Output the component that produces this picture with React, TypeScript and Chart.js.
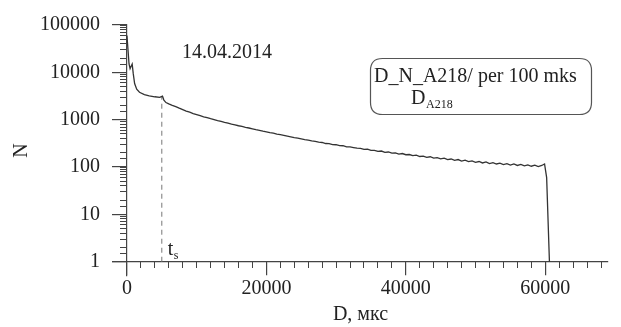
import React, { useEffect, useRef } from "react";
import { Chart, registerables } from "chart.js";

Chart.register(...registerables);

// ---- data ----
const D_US = [
  0, 150, 300, 450, 600, 750, 900, 1100, 1400, 1800, 2500, 3200, 4000, 4700, 5100, 5300, 5600,
  6000, 6500, 7000, 7500, 8000, 8500, 9000, 9500, 10000, 10500, 11000, 11500, 12000, 12500,
  13000, 13500, 14000, 14500, 15000, 15500, 16000, 16500, 17000, 17500, 18000, 18500, 19000,
  19500, 20000, 20500, 21000, 21500, 22000, 22500, 23000, 23500, 24000, 24500, 25000, 25500,
  26000, 26500, 27000, 27500, 28000, 28500, 29000, 29500, 30000, 30500, 31000, 31500, 32000,
  32500, 33000, 33500, 34000, 34500, 35000, 35500, 36000, 36500, 37000, 37500, 38000, 38500,
  39000, 39500, 40000, 40500, 41000, 41500, 42000, 42500, 43000, 43500, 44000, 44500, 45000,
  45500, 46000, 46500, 47000, 47500, 48000, 48500, 49000, 49500, 50000, 50500, 51000, 51500,
  52000, 52500, 53000, 53500, 54000, 54500, 55000, 55500, 56000, 56500, 57000, 57500, 58000,
  58500, 59000, 59500, 59900, 60200, 60600,
];
const N_COUNT = [
  60000, 30000, 15000, 12000, 13500, 15000, 9500, 5800, 4400, 3800, 3400, 3200, 3050, 2950, 3150, 2600, 2300,
  2160, 2010, 1890, 1750, 1630, 1520, 1450, 1350, 1285, 1215, 1150, 1105, 1050, 1005,
  960, 925, 880, 850, 805, 780, 745, 720, 690, 668, 640, 615, 598,
  572, 556, 533, 518, 498, 482, 466, 450, 436, 420, 407, 395, 380,
  372, 356, 350, 336, 330, 314, 312, 298, 296, 283, 282, 268, 266,
  258, 250, 248, 236, 238, 224, 226, 214, 218, 205, 208, 197, 200,
  188, 193, 182, 184, 174, 178, 167, 170, 160, 165, 155, 158, 149,
  154, 144, 148, 139, 144, 134, 140, 130, 135, 126, 131, 122, 128,
  118, 124, 116, 121, 113, 118, 110, 116, 108, 114, 106, 111, 104,
  110, 102, 108, 116, 60, 1,
];
const TS_D = [5000, 5000];
const TS_N = [1, 2950];

const X_MIN = -2000;
const X_MAX = 69000;
const Y_MIN = 0.5;
const Y_MAX = 100000;
const X_MAJOR_TICKS = [0, 20000, 40000, 60000];
const X_MINOR_STEP = 2000;
const Y_MAJOR_TICKS = [1, 10, 100, 1000, 10000, 100000];

const DATE_LABEL = "14.04.2014";
const LEGEND_LINE1 = "D_N_A218/ per 100 mks";
const LEGEND_MAIN = "D";
const LEGEND_SUB = "A218";
const TS_MAIN = "t";
const TS_SUB = "s";
const X_TITLE = "D, мкс";
const Y_TITLE = "N";

const FONT = '"Liberation Serif", "DejaVu Serif", serif';
const INK = "#222";
const AXIS = "#444";

const annotations = {
  id: "annotations",
  afterDraw(chart: any) {
    const ctx = chart.ctx;
    ctx.save();
    ctx.fillStyle = INK;
    ctx.textBaseline = "alphabetic";
    ctx.textAlign = "left";
    ctx.font = `20px ${FONT}`;
    ctx.fillText(DATE_LABEL, 182, 58);

    // legend box
    const bx = 370.5, by = 58.5, bw = 221, bh = 56, r = 12;
    ctx.beginPath();
    ctx.moveTo(bx + r, by);
    ctx.lineTo(bx + bw - r, by);
    ctx.quadraticCurveTo(bx + bw, by, bx + bw, by + r);
    ctx.lineTo(bx + bw, by + bh - r);
    ctx.quadraticCurveTo(bx + bw, by + bh, bx + bw - r, by + bh);
    ctx.lineTo(bx + r, by + bh);
    ctx.quadraticCurveTo(bx, by + bh, bx, by + bh - r);
    ctx.lineTo(bx, by + r);
    ctx.quadraticCurveTo(bx, by, bx + r, by);
    ctx.closePath();
    ctx.strokeStyle = "#555";
    ctx.lineWidth = 1.2;
    ctx.stroke();

    ctx.font = `20px ${FONT}`;
    ctx.fillText(LEGEND_LINE1, 374, 82);
    ctx.fillText(LEGEND_MAIN, 411, 104);
    ctx.font = `12px ${FONT}`;
    ctx.fillText(LEGEND_SUB, 426, 108);

    // t_s label
    const xs = chart.scales.x;
    const px = xs.getPixelForValue(TS_D[0]);
    ctx.font = `20px ${FONT}`;
    ctx.fillText(TS_MAIN, px + 6, 255);
    ctx.font = `12px ${FONT}`;
    ctx.fillText(TS_SUB, px + 12, 259);
    ctx.restore();
  },
};

export default function App() {
  const ref = useRef<HTMLCanvasElement | null>(null);
  useEffect(() => {
    if (!ref.current) return;
    const mainData = D_US.map((d, i) => ({ x: d, y: N_COUNT[i] }));
    const tsData = TS_D.map((d, i) => ({ x: d, y: TS_N[i] }));
    const chart = new Chart(ref.current, {
      type: "line",
      data: {
        datasets: [
          {
            label: LEGEND_MAIN + LEGEND_SUB,
            data: mainData,
            borderColor: "#333",
            borderWidth: 1.3,
            pointRadius: 0,
            tension: 0,
            xAxisID: "x",
            yAxisID: "y",
          },
          {
            label: "ts",
            data: tsData,
            borderColor: "#777",
            borderWidth: 1,
            borderDash: [5, 4],
            pointRadius: 0,
            xAxisID: "x",
            yAxisID: "y",
          },
        ],
      },
      options: {
        animation: false,
        responsive: false,
        events: [],
        layout: { padding: { left: 0, right: 13, top: 18, bottom: 51 } },
        plugins: { legend: { display: false }, tooltip: { enabled: false } },
        scales: {
          x: {
            type: "linear",
            min: X_MIN,
            max: X_MAX,
            position: { y: 1 } as any,
            afterBuildTicks: (s: any) => {
              s.ticks = X_MAJOR_TICKS.map((v) => ({ value: v }));
            },
            ticks: {
              callback: (v: any) => String(v),
              color: INK,
              font: { family: FONT, size: 20 },
              padding: 2,
              maxRotation: 0,
              autoSkip: false,
            },
            grid: { drawOnChartArea: false, drawTicks: true, tickLength: 13, color: AXIS, lineWidth: 1.2 },
            border: { display: true, color: AXIS, width: 1.2 },
            title: { display: true, text: X_TITLE, color: INK, font: { family: FONT, size: 20 }, padding: { top: 0, bottom: 0 } },
          },
          x2: {
            type: "linear",
            min: X_MIN,
            max: X_MAX,
            position: { y: 1 } as any,
            afterBuildTicks: (s: any) => {
              const t = [];
              for (let v = 0; v <= X_MAX; v += X_MINOR_STEP) t.push({ value: v });
              s.ticks = t;
            },
            ticks: { display: false, autoSkip: false },
            grid: { drawOnChartArea: false, drawTicks: true, tickLength: 6, color: AXIS, lineWidth: 1 },
            border: { display: false },
          },
          y: {
            type: "logarithmic",
            min: Y_MIN,
            max: Y_MAX,
            position: { x: 0 } as any,
            afterBuildTicks: (s: any) => {
              s.ticks = Y_MAJOR_TICKS.map((v) => ({ value: v }));
            },
            ticks: { display: false, autoSkip: false },
            grid: { drawOnChartArea: false, drawTicks: true, tickLength: 14, color: AXIS, lineWidth: 1.2 },
            border: { display: true, color: AXIS, width: 1.2 },
          },
          y2: {
            type: "logarithmic",
            min: Y_MIN,
            max: Y_MAX,
            position: { x: 0 } as any,
            afterBuildTicks: (s: any) => {
              s.ticks = s.ticks.filter((t: any) => t.value >= 1);
            },
            ticks: { display: false, autoSkip: false },
            grid: { drawOnChartArea: false, drawTicks: true, tickLength: 7, color: AXIS, lineWidth: 1 },
            border: { display: false },
          },
          yLabels: {
            type: "logarithmic",
            min: Y_MIN,
            max: Y_MAX,
            position: "left",
            afterBuildTicks: (s: any) => {
              s.ticks = Y_MAJOR_TICKS.map((v) => ({ value: v }));
            },
            afterFit: (s: any) => {
              s.width = 113;
            },
            ticks: {
              callback: (v: any) => String(v),
              color: INK,
              font: { family: FONT, size: 20 },
              padding: 13,
              autoSkip: false,
            },
            grid: { display: false, drawTicks: false },
            border: { display: false },
            title: { display: true, text: Y_TITLE, color: INK, font: { family: FONT, size: 20 }, padding: { top: 10, bottom: 0 } },
          },
        },
      } as any,
      plugins: [annotations],
    });
    return () => chart.destroy();
  }, []);
  return (
    <div style={{ position: "absolute", left: 0, top: 0, width: 621, height: 327, background: "#fff" }}>
      <canvas ref={ref} width={621} height={327} style={{ display: "block" }} />
    </div>
  );
}
